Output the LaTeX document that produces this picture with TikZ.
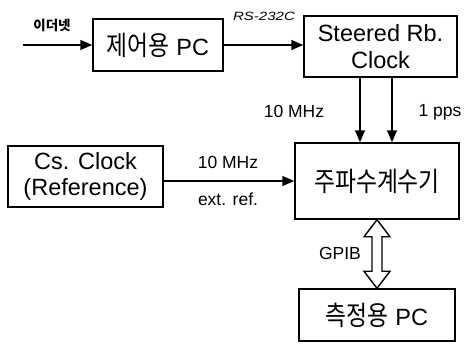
\documentclass[tikz,border=0pt]{standalone}
\usepackage{fontspec}
\setmainfont{Liberation Sans}
\newfontfamily\kr{Noto Sans CJK KR}
\newcommand{\krtall}[1]{\scalebox{0.97}[1.15]{\kr #1}}
\usetikzlibrary{arrows.meta,calc}
\begin{document}
\begin{tikzpicture}[x=1pt,y=-1pt,
  box/.style={draw,line width=1.5pt,inner sep=0pt,align=center,font=\fontsize{23.5}{26.5}\selectfont},
  arr/.style={line width=1.5pt,-{Triangle[length=12pt,width=10pt]}},
  lbl/.style={inner sep=0pt,font=\fontsize{17.5}{20}\selectfont}]
\useasboundingbox (0,0) rectangle (464,346);
\node[box,minimum width=130pt,minimum height=52pt] (b1) at (158,45) {\krtall{제어용} PC};
\node[box,minimum width=153pt,minimum height=61pt] (b2) at (380.5,46.5) {Steered Rb.\\Clock};
\node[box,minimum width=164pt,minimum height=76pt] (b3) at (377,181) {\krtall{주파수계수기}};
\node[box,minimum width=156pt,minimum height=52pt] (b4) at (377,315) {\krtall{측정용} PC};
\node[box,minimum width=155pt,minimum height=61pt] (b5) at (85.5,176.5) {Cs. Clock\\(Reference)};
\coordinate (eth) at (23,45);
\coordinate (xa) at (360,0);
\coordinate (xb) at (392,0);
\node[inner sep=0pt,font=\fontsize{13.5}{15}\kr\bfseries] (leth) at (52,25) {이더넷};
\node[inner sep=0pt,font=\fontsize{12}{14}\selectfont] (lrs) at (264,16) {\scalebox{1.25}[1]{\itshape RS-232C}};
\node[lbl] (l10a) at (294,111) {10 MHz};
\node[lbl] (lpps) at (440,112) {1 pps};
\node[lbl] (l10b) at (228,162) {10 MHz};
\node[lbl] (lext) at (228,199) {ext. ref.};
\node[lbl] (lgp) at (340,253) {GPIB};
\draw[arr] (eth) -- (b1.west |- eth);
\draw[arr] (b1.east) -- (b1.east -| b2.west);
\draw[arr] (b2.south -| xa) -- (b3.north -| xa);
\draw[arr] (b2.south -| xb) -- (b3.north -| xb);
\draw[arr] (b3.west -| b5.east) -- (b3.west);
\draw[line width=1.4pt,line join=miter] (b3.south) -- ++(13,17) -- ++(-8,0)
  -- ($(b4.north)+(5,-17)$) -- ++(8,0) -- (b4.north) -- ++(-13,-17) -- ++(8,0)
  -- ($(b3.south)+(-5,17)$) -- ++(-8,0) -- cycle;
\end{tikzpicture}
\end{document}
